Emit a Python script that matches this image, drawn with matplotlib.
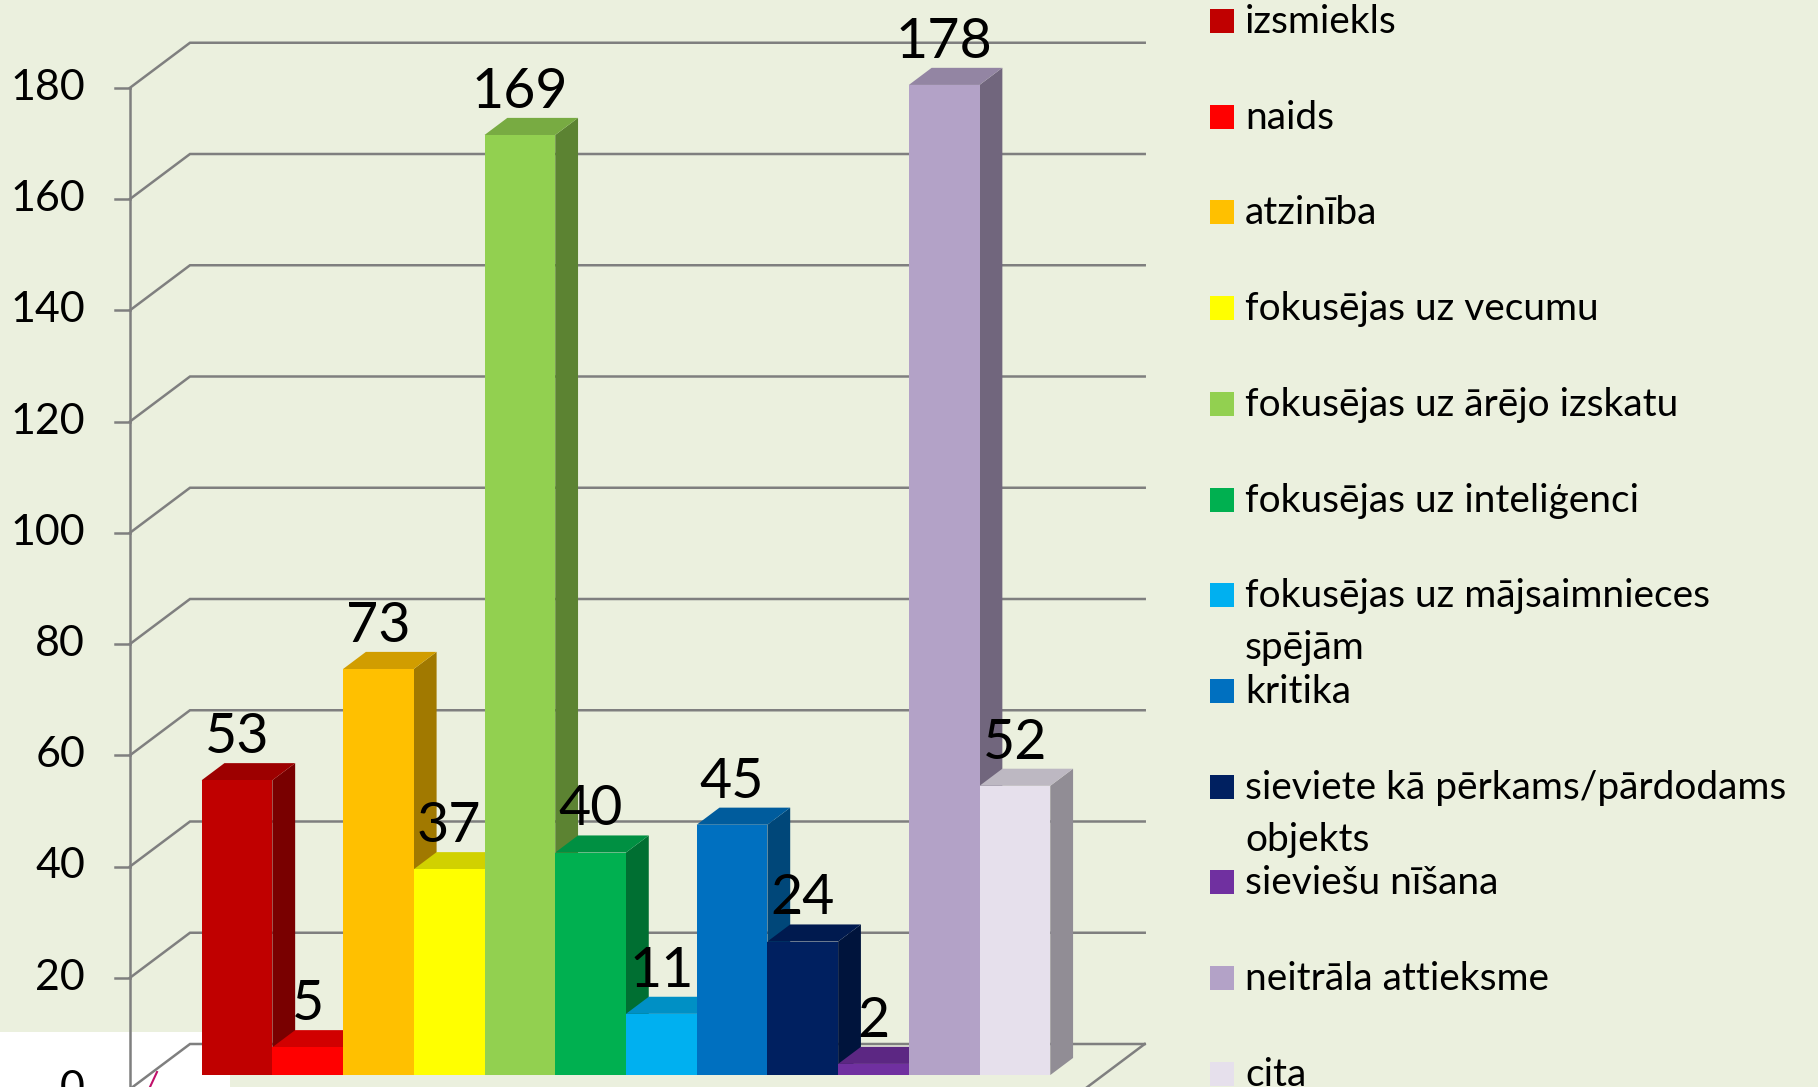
import matplotlib
matplotlib.use("Agg")
import matplotlib.pyplot as plt
from matplotlib.patches import Polygon, Rectangle
import matplotlib.colors as mcolors

plt.rcParams['font.family'] = ['Lato', 'DejaVu Sans']

# ---------------- data ----------------
categories = [
    "izsmiekls",
    "naids",
    "atzinība",
    "fokusējas uz vecumu",
    "fokusējas uz ārējo izskatu",
    "fokusējas uz inteliģenci",
    "fokusējas uz mājsaimnieces\nspējām",
    "kritika",
    "sieviete kā pērkams/pārdodams\nobjekts",
    "sieviešu nīšana",
    "neitrāla attieksme",
    "cita",
]
values = [53, 5, 73, 37, 169, 40, 11, 45, 24, 2, 178, 52]
colors = ["#C00000", "#FF0000", "#FFC000", "#FFFF00", "#92D050", "#00B050",
          "#00B0F0", "#0070C0", "#002060", "#7030A0", "#B3A2C7", "#E6E0EC"]
yticks = [0, 20, 40, 60, 80, 100, 120, 140, 160, 180]

# ---------------- geometry (pixels) ----------------
W, H = 1818, 1087
BG = "#EBF0DE"
AXIS_PX = 130.0          # x pixel of front vertical axis
ZERO_PY = 1089.0         # y pixel (from top) of value 0 at front
PX_X = 70.72             # pixels per bar width
PX_V = 5.5625            # pixels per value unit
DXW = 60.0 / PX_X        # depth offset of back wall (x units)
DYW = 45.0 / PX_V        # depth offset of back wall (value units)
FLOOR_W = 13.5           # floor width in bar units
GAP = 0.75
Z0, Z1 = 0.31, 0.69      # bar depth range
GRID_C = "#7F7F7F"

fig = plt.figure(figsize=(W / 100, H / 100), dpi=100, facecolor=BG)
ax = fig.add_axes([0, 0, 1, 1])
ax.set_xlim(-AXIS_PX / PX_X, (W - AXIS_PX) / PX_X)
ax.set_ylim((ZERO_PY - H) / PX_V, ZERO_PY / PX_V)
ax.axis("off")
ax.patch.set_alpha(0)

# white patch artifact in bottom-left corner (behind the chart)
fig.patches.append(Rectangle((0, 0), 230 / W, (H - 1032) / H, transform=fig.transFigure,
                             facecolor="white", edgecolor="none", zorder=-1))
# small magenta stroke artifact
fig.lines.append(plt.Line2D([150 / W, 157 / W], [1 - 1087 / H, 1 - 1072 / H],
                            transform=fig.transFigure, color="#C0106A", lw=1.5, zorder=-0.5))

# gridlines: side wall diagonals + back wall horizontals
for v in yticks:
    ax.plot([0, DXW, DXW + FLOOR_W], [v, v + DYW, v + DYW], color=GRID_C, lw=1.8,
            zorder=1, solid_joinstyle="miter", clip_on=False)
# floor right edge and front edge
ax.plot([FLOOR_W, FLOOR_W + DXW], [0, DYW], color=GRID_C, lw=1.8, zorder=1, clip_on=False)
ax.plot([0, FLOOR_W], [0, 0], color=GRID_C, lw=1.8, zorder=1, clip_on=False)
# vertical axis and ticks
ax.plot([0, 0], [0, yticks[-1]], color=GRID_C, lw=1.8, zorder=1, clip_on=False)
tick_len = 15.0 / PX_X
for v in yticks:
    ax.plot([-tick_len, 0], [v, v], color=GRID_C, lw=1.8, zorder=1, clip_on=False)
    ax.text(-45.0 / PX_X, v, str(v), ha="right", va="center", fontsize=31,
            color="black", clip_on=False)


def shade(c, f):
    r, g, b = mcolors.to_rgb(c)
    return (r * f, g * f, b * f)


# bars
for i, (val, col) in enumerate(zip(values, colors)):
    x0 = GAP + i
    x1 = x0 + 1
    fx0, fy0 = Z0 * DXW, Z0 * DYW
    fx1, fy1 = Z1 * DXW, Z1 * DYW
    z = 3 + i
    front = Polygon([(x0 + fx0, fy0), (x1 + fx0, fy0), (x1 + fx0, val + fy0), (x0 + fx0, val + fy0)],
                    closed=True, facecolor=col, edgecolor="none", zorder=z)
    side = Polygon([(x1 + fx0, fy0), (x1 + fx1, fy1), (x1 + fx1, val + fy1), (x1 + fx0, val + fy0)],
                   closed=True, facecolor=shade(col, 0.63), edgecolor="none", zorder=z)
    top = Polygon([(x0 + fx0, val + fy0), (x1 + fx0, val + fy0), (x1 + fx1, val + fy1), (x0 + fx1, val + fy1)],
                  closed=True, facecolor=shade(col, 0.82), edgecolor="none", zorder=z)
    for p in (side, top, front):
        ax.add_patch(p)
    ax.text(x0 + 0.5 + fx0, val + fy1 + 1.8, str(val), ha="center", va="baseline",
            fontsize=40, color="black", zorder=50)

# legend
LEG_SQ_X = 1210
LEG_TX_X = 1245
LEG_BASE0 = 33.0
LEG_DY = 95.7
LINE_DY = 52.0
SQ = 24
for k, (lab, col) in enumerate(zip(categories, colors)):
    base = LEG_BASE0 + k * LEG_DY
    fig.patches.append(Rectangle((LEG_SQ_X / W, 1 - base / H), SQ / W, SQ / H,
                                 transform=fig.transFigure, facecolor=col, edgecolor="none"))
    for j, line in enumerate(lab.split("\n")):
        fig.text(LEG_TX_X / W, 1 - (base + j * LINE_DY) / H, line, ha="left",
                 va="baseline", fontsize=28, color="black")

fig.savefig("out.png", dpi=100, facecolor=BG)
